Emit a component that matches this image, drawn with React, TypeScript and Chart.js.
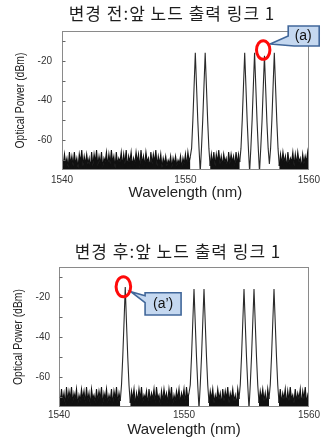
import { useEffect, useRef } from 'react';
import { Chart, registerables } from 'chart.js';

Chart.register(...registerables);

// ---- data ----
const WL_START = 1540;
const WL_STEP = 0.1;
const X_TICKS = [1540, 1550, 1560];
const Y_TICKS = [-60, -40, -20];
const Y_TICK_MARKS = [-70, -60, -50, -40, -30, -20, -10];
const NOISE_CEILING = -64.5; // segments entirely below this are the ASE noise floor

const TITLE_BEFORE = '변경 전:앞 노드 출력 링크 1';
const TITLE_AFTER = '변경 후:앞 노드 출력 링크 1';
const X_TITLE = 'Wavelength (nm)';
const Y_TITLE = 'Optical Power (dBm)';

// optical power (dBm) sampled every 0.1 nm from 1540 nm
const POWER_BEFORE = [
  -68, -73, -67, -72, -69, -74, -66, -72, -68, -73,
  -66, -72, -69, -74, -67, -71, -65, -73, -68, -72,
  -67, -72, -69, -74, -66, -73, -67, -71, -65, -73,
  -68, -72, -66, -74, -69, -71, -66, -73, -67, -72,
  -65, -71, -68, -74, -66, -72, -69, -71, -66, -73,
  -67, -72, -65, -74, -68, -71, -66, -73, -69, -72,
  -66, -71, -67, -74, -65, -72, -68, -73, -66, -71,
  -69, -74, -66, -72, -67, -71, -65, -73, -68, -72,
  -67, -74, -69, -72, -68, -73, -70, -72, -68, -74,
  -69, -72, -68, -73, -70, -72, -68, -74, -69, -72,
  -67, -73, -66, -71, -68, -64, -50, -33, -16, -33,
  -50, -64, -76, -64, -50, -33, -16, -33, -50, -64,
  -73, -67, -72, -66, -73, -67, -71, -65, -72, -68,
  -73, -67, -71, -69, -74, -66, -72, -67, -71, -68,
  -73, -66, -72, -67, -71, -64, -50, -33, -16, -33,
  -50, -64, -76, -64, -50, -33, -16, -33, -50, -64,
  -76, -64, -51, -34, -17.5, -34, -51, -64, -72, -64,
  -50, -33, -16, -33, -50, -64, -73, -67, -72, -66,
  -71, -68, -74, -66, -72, -69, -71, -66, -73, -67,
  -72, -66, -71, -69, -74, -67, -72, -68, -71, -66,
  -73,
];

const POWER_AFTER = [
  -67, -73, -66, -72, -68, -74, -65, -72, -67, -71,
  -65, -73, -68, -71, -66, -74, -69, -72, -66, -71,
  -67, -73, -65, -72, -68, -74, -66, -71, -69, -73,
  -66, -72, -67, -71, -65, -74, -68, -71, -66, -73,
  -69, -72, -66, -74, -67, -71, -65, -73, -68, -72,
  -64, -50, -33, -15, -33, -50, -64, -73, -67, -71,
  -66, -74, -68, -72, -66, -71, -65, -73, -69, -71,
  -67, -74, -66, -72, -68, -71, -66, -73, -65, -71,
  -69, -74, -67, -72, -66, -71, -68, -73, -66, -71,
  -65, -74, -69, -72, -67, -71, -66, -73, -68, -71,
  -66, -73, -65, -71, -68, -64, -50, -33, -16, -33,
  -50, -64, -76, -64, -50, -33, -16, -33, -50, -64,
  -73, -67, -71, -66, -73, -69, -72, -66, -71, -68,
  -74, -66, -72, -67, -71, -65, -73, -68, -71, -66,
  -72, -69, -74, -66, -71, -64, -50, -33, -16, -33,
  -50, -64, -76, -64, -50, -33, -16, -33, -50, -64,
  -73, -67, -71, -66, -72, -68, -74, -66, -71, -64,
  -50, -33, -16, -33, -50, -64, -73, -66, -73, -68,
  -71, -66, -74, -67, -72, -65, -71, -69, -73, -66,
  -72, -68, -71, -66, -74, -67, -71, -65, -73, -69,
  -72,
];

// annotation anchors (data coordinates)
const MARK_BEFORE = { x: 1556.3, y: -14.6, label: '(a)' };
const MARK_AFTER = { x: 1545.15, y: -14.85, label: '(a’)' };

// ---- styling ----
const SANS = '"Liberation Sans", Arial, sans-serif';
const KR = '"Noto Sans CJK KR", "Noto Sans", sans-serif';

const decorPlugin = {
  id: 'decor',
  afterDraw(chart: any, _args: any, opts: any) {
    const { ctx, chartArea: a, scales } = chart;
    const xs = scales.x;
    const ys = scales.y;
    ctx.save();

    // frame
    ctx.strokeStyle = '#8a8a8a';
    ctx.lineWidth = 1;
    const l = Math.round(a.left) + 0.5;
    const t = Math.round(a.top) + 0.5;
    const r = Math.round(a.right) - 0.5;
    const b = Math.round(a.bottom) - 0.5;
    ctx.strokeRect(l, t, r - l, b - t);

    // inward tick marks on the left axis
    ctx.strokeStyle = '#666';
    ctx.beginPath();
    Y_TICK_MARKS.forEach((v) => {
      const py = Math.round(ys.getPixelForValue(v)) + 0.5;
      ctx.moveTo(l, py);
      ctx.lineTo(l + 3, py);
    });
    ctx.stroke();

    // title
    ctx.fillStyle = '#1e1e1e';
    ctx.font = `17px ${KR}`;
    ctx.textAlign = 'center';
    ctx.textBaseline = 'middle';
    (ctx as any).letterSpacing = '1px';
    ctx.fillText(opts.title, opts.titleX, opts.titleY);
    (ctx as any).letterSpacing = '0px';

    // y axis title (condensed)
    ctx.save();
    ctx.translate(opts.yTitleX, (a.top + a.bottom) / 2);
    ctx.rotate(-Math.PI / 2);
    ctx.scale(0.8, 1);
    ctx.font = `13px ${SANS}`;
    ctx.fillStyle = '#222';
    ctx.fillText(Y_TITLE, 0, 0);
    ctx.restore();

    // callout + ellipse
    const m = opts.mark;
    const cx = xs.getPixelForValue(m.x);
    const cy = ys.getPixelForValue(m.y);
    ctx.beginPath();
    opts.callout.forEach((p: number[], i: number) => {
      if (i === 0) ctx.moveTo(cx + p[0], cy + p[1]);
      else ctx.lineTo(cx + p[0], cy + p[1]);
    });
    ctx.closePath();
    ctx.fillStyle = '#c5d8f0';
    ctx.fill();
    ctx.strokeStyle = '#41679a';
    ctx.lineWidth = 1.6;
    ctx.stroke();

    ctx.fillStyle = '#111';
    ctx.font = `14px ${SANS}`;
    ctx.textAlign = 'center';
    ctx.textBaseline = 'middle';
    ctx.fillText(m.label, cx + opts.text[0], cy + opts.text[1]);

    ctx.beginPath();
    ctx.ellipse(cx, cy, opts.rx, opts.ry, 0, 0, Math.PI * 2);
    ctx.strokeStyle = '#ff0a0a';
    ctx.lineWidth = 3;
    ctx.stroke();

    ctx.restore();
  },
};

const isNoise = (c: any) => Math.max(c.p0.parsed.y, c.p1.parsed.y) < NOISE_CEILING;

function makeConfig(power: number[], L: any): any {
  return {
    type: 'line',
    data: {
      datasets: [
        {
          data: power.map((v, i) => ({ x: WL_START + i * WL_STEP, y: v })),
          borderColor: '#2a2a2a',
          borderWidth: 1.1,
          pointRadius: 0,
          tension: 0,
          fill: 'start',
          backgroundColor: 'rgba(0,0,0,0)',
          segment: {
            backgroundColor: (c: any) => (isNoise(c) ? '#111111' : 'rgba(0,0,0,0)'),
            borderColor: (c: any) => (isNoise(c) ? '#111111' : '#2a2a2a'),
          },
        },
      ],
    },
    options: {
      animation: false,
      responsive: false,
      maintainAspectRatio: false,
      events: [],
      layout: { padding: { left: 0, right: L.padRight, top: L.padTop, bottom: 0 } },
      plugins: {
        legend: { display: false },
        tooltip: { enabled: false },
        title: { display: false },
        filler: { propagate: false },
        decor: L.decor,
      },
      scales: {
        x: {
          type: 'linear',
          min: 1540,
          max: 1560,
          grid: { display: false, drawTicks: false },
          border: { display: false },
          afterBuildTicks: (s: any) => {
            s.ticks = X_TICKS.map((v) => ({ value: v }));
          },
          afterFit: (s: any) => {
            s.height = L.xAxisHeight;
          },
          ticks: {
            autoSkip: false,
            maxRotation: 0,
            padding: L.xTickPad,
            color: '#333',
            font: { family: SANS, size: 10 },
            callback: (v: any) => String(v),
          },
          title: {
            display: true,
            text: X_TITLE,
            color: '#222',
            font: { family: SANS, size: 15, lineHeight: 1 },
            padding: { top: 0, bottom: L.xTitlePad },
          },
        },
        y: {
          type: 'linear',
          min: -75,
          max: -5,
          grid: { display: false, drawTicks: false },
          border: { display: false },
          afterBuildTicks: (s: any) => {
            s.ticks = Y_TICKS.map((v) => ({ value: v }));
          },
          afterFit: (s: any) => {
            s.width = L.yAxisWidth;
          },
          ticks: {
            autoSkip: false,
            padding: L.yTickPad,
            color: '#333',
            font: { family: SANS, size: 10 },
            callback: (v: any) => String(v),
          },
          title: { display: false },
        },
      },
    },
    plugins: [decorPlugin],
  };
}

const LAYOUT_BEFORE = {
  padTop: 31,
  padRight: 12,
  yAxisWidth: 62,
  xAxisHeight: 50,
  xTickPad: 4,
  yTickPad: 10,
  xTitlePad: 19.5,
  decor: {
    title: TITLE_BEFORE,
    titleX: 172,
    titleY: 14,
    yTitleX: 20,
    mark: MARK_BEFORE,
    rx: 6.7,
    ry: 9.3,
    callout: [
      [25, -24],
      [56, -24],
      [56, -4],
      [31, -4],
      [7, -6],
      [25, -14],
    ],
    text: [40, -14],
  },
};

const LAYOUT_AFTER = {
  padTop: 47,
  padRight: 15,
  yAxisWidth: 59,
  xAxisHeight: 30,
  xTickPad: 2,
  yTickPad: 9,
  xTitlePad: 0,
  decor: {
    title: TITLE_AFTER,
    titleX: 178,
    titleY: 32,
    yTitleX: 18,
    mark: MARK_AFTER,
    rx: 7.3,
    ry: 10,
    callout: [
      [21.7, 6],
      [57.7, 6],
      [57.7, 28.3],
      [21.7, 28.3],
      [21.7, 16],
      [7.4, 5],
      [21.7, 9],
    ],
    text: [39.7, 17.3],
  },
};

function SpectrumChart({ power, layout, height }: { power: number[]; layout: any; height: number }) {
  const ref = useRef<HTMLCanvasElement | null>(null);
  useEffect(() => {
    if (!ref.current) return;
    const chart = new Chart(ref.current, makeConfig(power, layout));
    return () => chart.destroy();
  }, [power, layout]);
  return <canvas ref={ref} width={324} height={height} style={{ display: 'block', width: 324, height }} />;
}

export default function App() {
  return (
    <div style={{ position: 'absolute', left: 0, top: 0, width: 324, height: 437, background: '#fff' }}>
      <SpectrumChart power={POWER_BEFORE} layout={LAYOUT_BEFORE} height={220} />
      <SpectrumChart power={POWER_AFTER} layout={LAYOUT_AFTER} height={217} />
    </div>
  );
}
